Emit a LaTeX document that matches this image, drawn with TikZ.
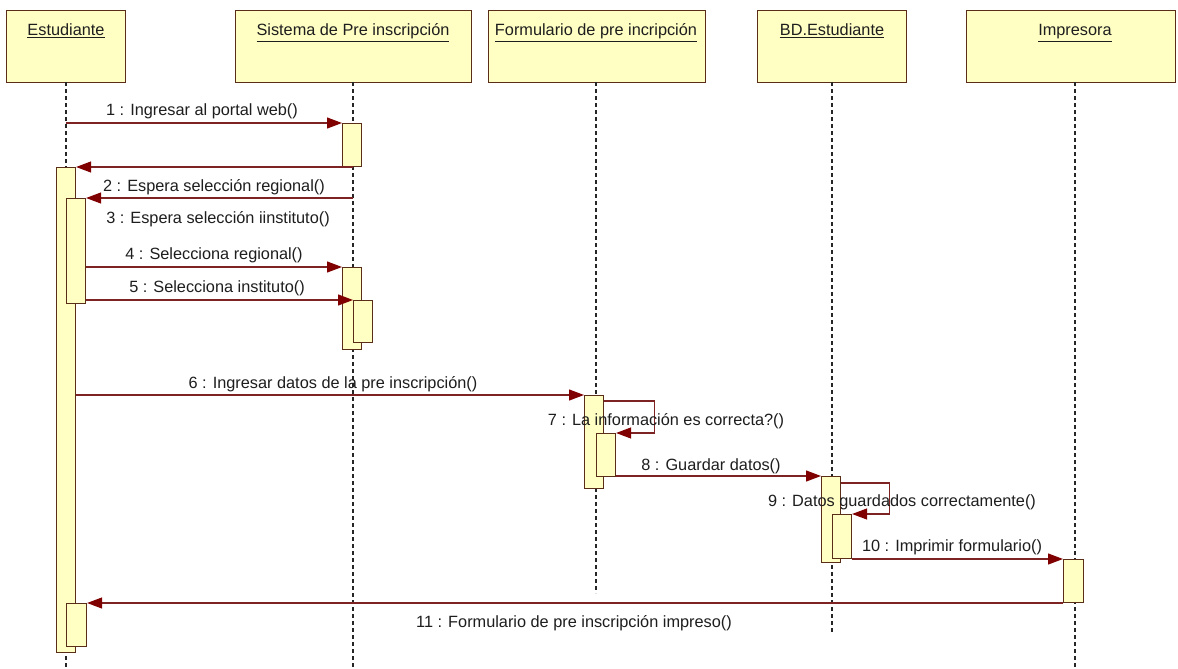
\documentclass[tikz,border=0pt]{standalone}
\usepackage{fontspec}
\setmainfont{Liberation Sans}
\usetikzlibrary{arrows.meta}
\definecolor{boxfill}{RGB}{255,255,196}
\definecolor{boxline}{RGB}{90,45,25}
\definecolor{msgline}{RGB}{125,35,35}
\definecolor{tipcol}{RGB}{128,0,0}
\definecolor{txt}{RGB}{30,30,30}
\begin{document}
\begin{tikzpicture}[x=1pt,y=-1pt,
  font=\fontsize{16.3}{19}\selectfont,
  hdr/.style={draw=boxline, line width=1.4pt, fill=boxfill, inner sep=0pt, anchor=north west},
  hdrtext/.style={inner sep=0pt, anchor=base, text=txt},
  act/.style={draw=boxline, line width=1.1pt, fill=boxfill, inner sep=0pt, minimum width=19pt, anchor=north west},
  life/.style={draw=black!85, line width=1.2pt, dash pattern=on 4pt off 3pt},
  msg/.style={draw=msgline, line width=1.2pt, -{Triangle[length=15pt,width=11pt,color=tipcol]}},
  lbl/.style={inner sep=0pt, anchor=base, text=txt}]
\useasboundingbox[fill=white] (0,0) rectangle (1178,669);

% header boxes
\node[hdr, minimum width=119pt, minimum height=72pt] (hE) at (6,10) {};
\node[hdr, minimum width=236pt, minimum height=72pt] (hS) at (235,10) {};
\node[hdr, minimum width=217pt, minimum height=72pt] (hF) at (488,10) {};
\node[hdr, minimum width=149pt, minimum height=72pt] (hB) at (757,10) {};
\node[hdr, minimum width=209pt, minimum height=72pt] (hI) at (966,10) {};
\node[hdrtext] (tE) at (66,36) {\underline{Estudiante}};
\node[hdrtext] (tS) at (353,36) {\underline{Sistema de Pre inscripción}};
\node[hdrtext] (tF) at (596,36) {\underline{Formulario de pre incripción}};
\node[hdrtext] (tB) at (832,36) {\underline{BD.Estudiante}};
\node[hdrtext] (tI) at (1075,36) {\underline{Impresora}};

% lifelines
\coordinate (lE) at (66,82);  \coordinate (lEe) at (66,669);
\coordinate (lS) at (353,82); \coordinate (lSe) at (353,669);
\coordinate (lF) at (596,82); \coordinate (lFe) at (596,593);
\coordinate (lB) at (832,82); \coordinate (lBe) at (832,633);
\coordinate (lI) at (1075,82); \coordinate (lIe) at (1075,669);
\draw[life] (lE) -- (lEe);
\draw[life] (lS) -- (lSe);
\draw[life] (lF) -- (lFe);
\draw[life] (lB) -- (lBe);
\draw[life] (lI) -- (lIe);

% activation bars
\node[act, minimum height=485pt] (eBig) at (56,167) {};
\node[act, minimum height=105pt] (eIn1) at (66,198) {};
\node[act, minimum height=43pt, minimum width=20pt] (eIn2) at (66,603) {};
\node[act, minimum height=43pt] (sA1) at (342,123) {};
\node[act, minimum height=82pt] (sA2) at (342,267) {};
\node[act, minimum height=42pt] (sA3) at (353,300) {};
\node[act, minimum height=93pt] (fA1) at (584,395) {};
\node[act, minimum height=43pt] (fA2) at (596,433) {};
\node[act, minimum height=86pt] (bA1) at (821,476) {};
\node[act, minimum height=44pt] (bA2) at (832,514) {};
\node[act, minimum height=43pt, minimum width=20pt] (iA1) at (1063,559) {};

% messages
\draw[msg] (lE |- sA1.north west) -- (sA1.north west);
\draw[msg] (lS |- eBig.north east) -- (eBig.north east);
\draw[msg] (lS |- eIn1.north east) -- (eIn1.north east);
\draw[msg] (eIn1.east |- sA2.north west) -- (sA2.north west);
\draw[msg] (eIn1.east |- sA3.north west) -- (sA3.north west);
\draw[msg] (eBig.east |- fA1.north west) -- (fA1.north west);
\draw[msg] ([yshift=-6pt]fA1.north east) -- ++(50,0) |- (fA2.north east);
\draw[msg] (fA2.east |- bA1.north west) -- (bA1.north west);
\draw[msg] ([yshift=-7pt]bA1.north east) -- ++(48,0) |- (bA2.north east);
\draw[msg] (bA2.east |- iA1.north west) -- (iA1.north west);
\draw[msg] (iA1.west |- eIn2.north east) -- (eIn2.north east);

% labels
\node[lbl] (m1) at (202,115) {1 : Ingresar al portal web()};
\node[lbl] (m2) at (214,191) {2 : Espera selección regional()};
\node[lbl] (m3) at (218,223) {3 : Espera selección iinstituto()};
\node[lbl] (m4) at (214,259) {4 : Selecciona regional()};
\node[lbl] (m5) at (217,292) {5 : Selecciona instituto()};
\node[lbl] (m6) at (333,388) {6 : Ingresar datos de la pre inscripción()};
\node[lbl] (m7) at (666,425) {7 : La información es correcta?()};
\node[lbl] (m8) at (711,470) {8 : Guardar datos()};
\node[lbl] (m9) at (902,506) {9 : Datos guardados correctamente()};
\node[lbl] (m10) at (952,551) {10 : Imprimir formulario()};
\node[lbl] (m11) at (574,627) {11 : Formulario de pre inscripción impreso()};
\end{tikzpicture}
\end{document}
